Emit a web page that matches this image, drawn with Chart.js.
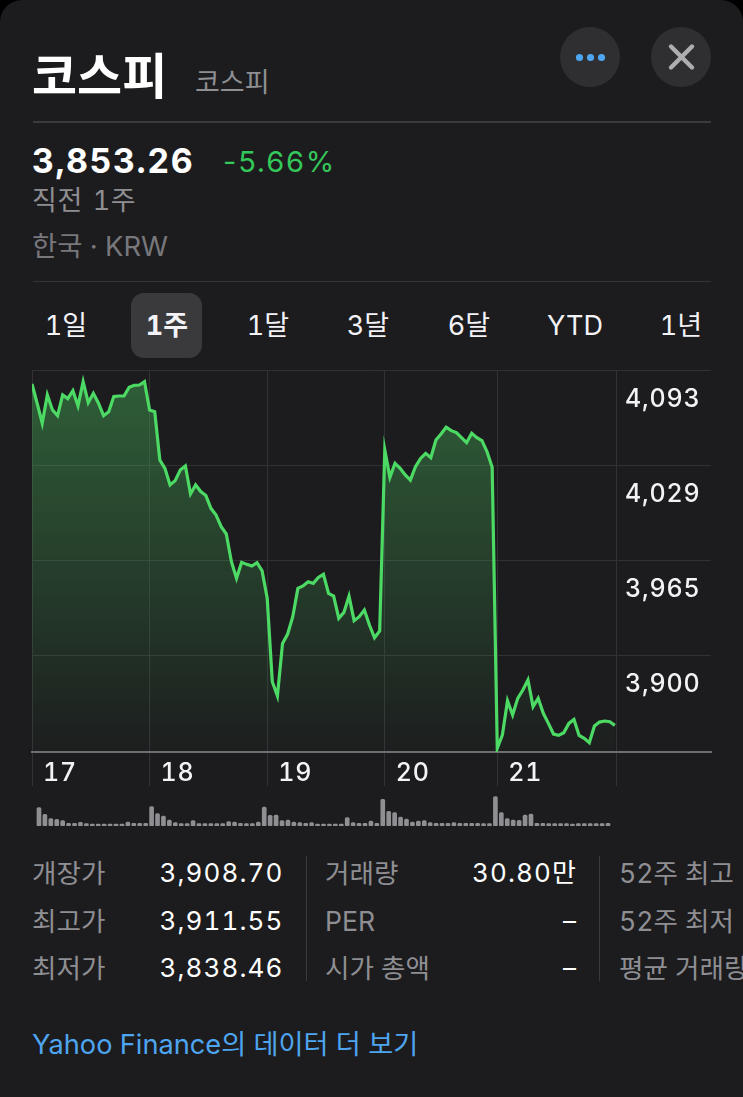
<!DOCTYPE html>
<html lang="ko">
<head>
<meta charset="utf-8">
<title>코스피</title>
<script src="https://cdn.jsdelivr.net/npm/chart.js@4"></script>
<style>
  html, body { margin: 0; padding: 0; background: #000; }
  #card {
    position: relative; width: 743px; height: 1097px; overflow: hidden;
    background: #1c1c1e; border-radius: 22px 22px 0 0;
    font-family: Inter, "Noto Sans CJK KR", sans-serif; color: #fff;
    font-feature-settings: "tnum" 1;
  }
  #card span, #card div.abs { position: absolute; white-space: nowrap; line-height: 1; }
  .kr { font-family: "Noto Sans CJK KR", sans-serif; }
  .gray { color: #8e8e93; }
  .row-label { font-size: 26.6px; color: #8e8e93; transform: translateY(-50%); }
  .row-value { font-size: 26px; letter-spacing: 1.1px; color: #fff; transform: translateY(-50%); text-align: right; }
  .tab { font-size: 27px; color: #f2f2f7; transform: translate(-50%, -50%); }
  .rule { position: absolute; background: #3a3a3c; }
  canvas { position: absolute; display: block; }
  .btn { position: absolute; width: 60px; height: 60px; border-radius: 50%; background: #2f2f32; top: 27px; }
</style>
</head>
<body>
<div id="card">
  <span class="kr" style="left:32px;top:72px;transform:translateY(-50%);font-size:49px;font-weight:700;">코스피</span>
  <span class="kr gray" style="left:195px;top:80px;transform:translateY(-50%);font-size:27px;">코스피</span>
  <div class="btn" style="left:560px;">
    <svg width="60" height="60" viewBox="0 0 60 60"><circle cx="19.5" cy="30.5" r="3.6" fill="#4ea5f0"/><circle cx="30.5" cy="30.5" r="3.6" fill="#4ea5f0"/><circle cx="41.5" cy="30.5" r="3.6" fill="#4ea5f0"/></svg>
  </div>
  <div class="btn" style="left:651px;">
    <svg width="60" height="60" viewBox="0 0 60 60"><path d="M20 19.5 L41 40.5 M41 19.5 L20 40.5" stroke="#aeaeb2" stroke-width="4.4" stroke-linecap="round"/></svg>
  </div>
  <div class="rule" style="left:33px;top:121px;width:678px;height:2px;"></div>

  <span style="left:32px;top:161px;transform:translateY(-50%);font-size:34px;font-weight:700;letter-spacing:1.5px;">3,853.26</span>
  <span style="left:223px;top:161px;transform:translateY(-50%);font-size:29px;letter-spacing:1.8px;color:#34c759;font-feature-settings:normal;">-5.66%</span>
  <span class="gray" style="left:32px;top:200px;transform:translateY(-50%);font-size:27px;word-spacing:2px;letter-spacing:0.6px;">직전 1주</span>
  <span class="gray" style="left:32px;top:247px;transform:translateY(-50%);font-size:27.4px;color:#77777c;">한국 · KRW</span>
  <div class="rule" style="left:33px;top:281px;width:678px;height:1px;background:#333336;"></div>

  <div class="abs" style="left:131px;top:293px;width:71px;height:65px;border-radius:13px;background:#3a3a3c;"></div>
  <span class="tab" style="left:66px;top:325px;">1일</span>
  <span class="tab" style="left:167px;top:325px;font-weight:700;">1주</span>
  <span class="tab" style="left:268px;top:325px;">1달</span>
  <span class="tab" style="left:368px;top:325px;">3달</span>
  <span class="tab" style="left:469px;top:325px;">6달</span>
  <span class="tab" style="left:575px;top:325px;">YTD</span>
  <span class="tab" style="left:681px;top:325px;">1년</span>

  <canvas id="price" style="left:0;top:360px;" width="743" height="426"></canvas>
  <canvas id="volume" style="left:36px;top:790px;" width="575" height="36"></canvas>

  <span class="row-label" style="left:32px;top:873px;">개장가</span>
  <span class="row-value" style="right:459.5px;top:873px;">3,908.70</span>
  <span class="row-label" style="left:32px;top:921px;">최고가</span>
  <span class="row-value" style="right:459.5px;top:921px;">3,911.55</span>
  <span class="row-label" style="left:32px;top:968px;">최저가</span>
  <span class="row-value" style="right:459.5px;top:968px;">3,838.46</span>
  <div class="rule" style="left:306px;top:856px;width:1px;height:125px;"></div>

  <span class="row-label" style="left:325px;top:873px;">거래량</span>
  <span class="row-value" style="right:166px;top:873px;">30.80만</span>
  <span class="row-label" style="left:325px;top:921px;">PER</span>
  <span class="row-value" style="right:166px;top:921px;">–</span>
  <span class="row-label" style="left:325px;top:968px;">시가 총액</span>
  <span class="row-value" style="right:166px;top:968px;">–</span>
  <div class="rule" style="left:599px;top:856px;width:1px;height:125px;"></div>

  <span class="row-label" style="left:619px;top:873px;">52주 최고</span>
  <span class="row-label" style="left:619px;top:921px;">52주 최저</span>
  <span class="row-label" style="left:619px;top:968px;">평균 거래량</span>

  <span style="left:32px;top:1045px;transform:translateY(-50%);font-size:27.2px;color:#4ea5f0;">Yahoo Finance의 데이터 더 보기</span>
</div>

<script>
// KOSPI one-week intraday closes, about 23 samples per session
const prices = [
  4083.9, 4070.9, 4057.4, 4076.5, 4066.4, 4062.5, 4076.5, 4074.0, 4079.4, 4069.1,
  4085.5, 4071.3, 4077.6, 4070.9, 4062.5, 4065.2, 4075.4, 4075.8, 4075.8, 4081.7,
  4083.0, 4083.2, 4085.5, 4066.4, 4065.2, 4032.6, 4027.0, 4015.8, 4018.7, 4025.9,
  4028.6, 4009.7, 4015.8, 4011.3, 4008.6, 4000.0, 3995.5, 3987.6, 3982.7, 3964.0,
  3952.8, 3963.6, 3962.2, 3961.1, 3963.3, 3957.9, 3939.3, 3883.0, 3873.4, 3908.9,
  3915.2, 3926.9, 3946.0, 3947.6, 3950.5, 3949.4, 3953.4, 3955.5, 3942.6, 3940.8,
  3925.8, 3929.8, 3940.8, 3924.2, 3926.9, 3931.4, 3921.3, 3912.7, 3917.2, 4039.4,
  4020.9, 4030.4, 4027.0, 4022.5, 4019.1, 4028.1, 4033.7, 4037.1, 4034.2, 4046.1,
  4050.2, 4054.7, 4052.4, 4051.1, 4047.7, 4044.3, 4050.6, 4047.7, 4045.7, 4038.2,
  4027.7, 3838.1, 3847.1, 3870.2, 3860.6, 3871.8, 3877.4, 3884.2, 3866.2, 3871.8,
  3861.7, 3854.9, 3847.7, 3846.8, 3848.6, 3854.9, 3857.6, 3846.8, 3844.8, 3841.9,
  3853.1, 3855.8, 3856.5, 3856.0, 3853.6
];

// Sample index where each session opens, plus the end of the last one
const sessionStarts = [0, 23, 46, 69, 91, 114.4];
const sessionLabels = ['17', '18', '19', '20', '21', ''];

// Evenly spaced price levels; labels show them rounded to whole points
const priceTicks = [4093, 4028.8, 3964.6, 3900.4];
const priceFloor = 3835.6;
const sampleSlots = 132.8;

// Relative trading volume per interval
const volumes = [
  55, 35, 22, 20, 16, 8, 8, 11, 7, 6, 6, 6, 6, 6, 6, 12, 8, 8, 8,
  58, 37, 30, 18, 10, 7, 7, 16, 7, 7, 7, 7, 7, 13, 12, 8, 7, 7, 12,
  57, 32, 33, 16, 18, 12, 10, 8, 10, 6, 6, 6, 6, 6,
  25, 10, 8, 8, 15, 8,
  80, 44, 40, 27, 21, 12, 15, 16, 10, 8, 8, 8, 10, 8, 8, 8, 8, 7, 7,
  88, 40, 22, 18, 17, 33, 36, 8, 8, 7, 7, 7, 7, 6, 7, 7, 7, 7, 7, 8
];

const gridColor = '#323235';
const uiFont = { family: 'Inter, "Noto Sans CJK KR", sans-serif', size: 25, weight: '500' };

// Axis labels reserve no outer room; the plot fills the padded box exactly
function dropAxisPadding(axis) {
  axis.paddingTop = axis.paddingBottom = axis.paddingLeft = axis.paddingRight = 0;
}

// Wider digit tracking for the canvas axis labels
const digitTracking = {
  id: 'digitTracking',
  beforeDraw(chart) { chart.ctx.letterSpacing = '0.8px'; }
};

new Chart(document.getElementById('price'), {
  type: 'line',
  plugins: [digitTracking],
  data: {
    datasets: [{
      data: prices.map((y, x) => ({ x, y })),
      borderColor: '#4cd964',
      borderWidth: 3.2,
      borderJoinStyle: 'miter',
      pointRadius: 0,
      tension: 0,
      fill: 'start',
      backgroundColor(ctx) {
        const area = ctx.chart.chartArea;
        if (!area) return 'transparent';
        const g = ctx.chart.ctx.createLinearGradient(0, area.top + 10, 0, area.bottom);
        g.addColorStop(0, 'rgba(66,160,82,0.5)');
        g.addColorStop(1, 'rgba(66,160,82,0.02)');
        return g;
      }
    }]
  },
  options: {
    responsive: false,
    animation: false,
    layout: { padding: { left: 32, right: 32, top: 10.5, bottom: 0 } },
    plugins: { legend: { display: false }, tooltip: { enabled: false } },
    scales: {
      x: {
        type: 'linear',
        min: 0,
        max: sampleSlots,
        afterBuildTicks(axis) { axis.ticks = sessionStarts.map(value => ({ value })); },
        afterFit(axis) { axis.height = 34; dropAxisPadding(axis); },
        border: { display: true, color: '#6e6e72', width: 2 },
        grid: { color: gridColor, lineWidth: 1, drawTicks: true, tickLength: 34 },
        ticks: {
          autoSkip: false,
          maxRotation: 0,
          color: '#f2f2f7',
          font: uiFont,
          padding: -28,
          labelOffset: 28,
          callback(value) { return sessionLabels[sessionStarts.indexOf(value)]; }
        }
      },
      y: {
        position: 'right',
        min: priceFloor,
        max: 4093,
        afterBuildTicks(axis) { axis.ticks = priceTicks.map(value => ({ value })); },
        afterFit(axis) { axis.width = 0; dropAxisPadding(axis); },
        border: { display: false },
        grid: { color: gridColor, lineWidth: 1, drawTicks: false },
        ticks: {
          mirror: true,
          autoSkip: false,
          color: '#f2f2f7',
          font: uiFont,
          padding: -10.5,
          labelOffset: 28.5,
          callback(value) { return Math.round(value).toLocaleString('en-US'); }
        }
      }
    }
  }
});

new Chart(document.getElementById('volume'), {
  type: 'bar',
  data: {
    labels: volumes.map((_, i) => i),
    datasets: [{
      data: volumes,
      backgroundColor: '#8e8e93',
      barThickness: 4,
      borderRadius: 1.5,
      borderSkipped: false
    }]
  },
  options: {
    responsive: false,
    animation: false,
    plugins: { legend: { display: false }, tooltip: { enabled: false } },
    scales: {
      x: { display: false },
      y: { display: false, min: 0, max: 108 }
    }
  }
});
</script>
</body>
</html>
